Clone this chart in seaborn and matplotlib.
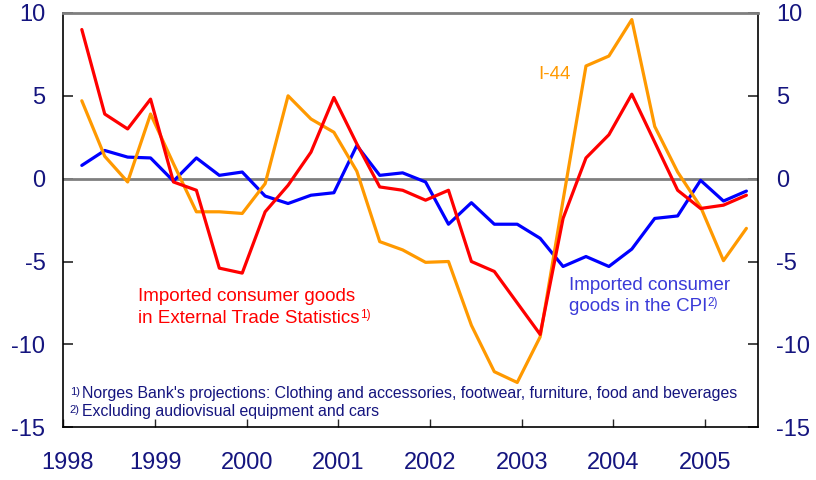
import numpy as np
import pandas as pd
import matplotlib
matplotlib.use("Agg")
import matplotlib.pyplot as plt
import matplotlib.transforms as mtransforms
import seaborn as sns

# quarterly data 1998Q1 - 2005Q2
quarters = pd.period_range("1998Q1", "2005Q2", freq="Q")
trade_stats = [9.0, 3.9, 3.0, 4.8, -0.2, -0.7, -5.4, -5.7, -2.0, -0.4,
               1.6, 4.9, 2.1, -0.5, -0.7, -1.3, -0.7, -5.0, -5.6, -7.5,
               -9.4, -2.4, 1.25, 2.65, 5.1, 2.2, -0.7, -1.8, -1.6, -1.0]
i44 = [4.7, 1.35, -0.2, 3.9, 0.9, -2.0, -2.0, -2.1, -0.3, 5.0,
       3.6, 2.8, 0.45, -3.8, -4.3, -5.05, -5.0, -8.85, -11.65, -12.3,
       -9.55, -1.3, 6.8, 7.4, 9.6, 3.15, 0.4, -1.7, -4.95, -3.0]
cpi = [0.8, 1.7, 1.3, 1.25, -0.15, 1.25, 0.2, 0.4, -1.05, -1.5,
       -1.0, -0.85, 2.0, 0.2, 0.35, -0.2, -2.75, -1.45, -2.75, -2.75,
       -3.6, -5.3, -4.7, -5.3, -4.25, -2.4, -2.25, -0.1, -1.35, -0.75]
years = list(range(1998, 2006))
yticks = [10, 5, 0, -5, -10, -15]

navy = "#15157f"
red = "#ff0000"
orange = "#ff9900"
blue = "#0000ff"
label_blue = "#3a3ad8"

x = np.array([q.year + (q.quarter - 1) / 4 + 0.2 for q in quarters])
df = pd.DataFrame({"x": x, "trade": trade_stats, "i44": i44, "cpi": cpi})

sns.set_style("white")
plt.rcParams["font.family"] = ["Liberation Sans", "DejaVu Sans"]
plt.rcParams["axes.unicode_minus"] = False

fig = plt.figure(figsize=(8.16, 4.8), dpi=100)
ax = fig.add_axes([0.0778, 0.110, 0.8515, 0.863])

ax.axhline(0, color="#7f7f7f", lw=2, zorder=1)
sns.lineplot(data=df, x="x", y="trade", color=red, lw=2.3, ax=ax, zorder=4)
sns.lineplot(data=df, x="x", y="i44", color=orange, lw=2.3, ax=ax, zorder=3)
sns.lineplot(data=df, x="x", y="cpi", color=blue, lw=2.3, ax=ax, zorder=2)

ax.set_xlim(1998, 2005.58)
ax.set_ylim(-15, 10)
ax.set_xlabel("")
ax.set_ylabel("")

for side in ["left", "right", "bottom"]:
    ax.spines[side].set_color("black")
    ax.spines[side].set_linewidth(1.2)
ax.spines["top"].set_color("#7f7f7f")
ax.spines["top"].set_linewidth(2)

ax.set_yticks(yticks)
ax.set_xticks(years)
ax.set_xticklabels([str(y) for y in years])
ax.tick_params(axis="y", which="both", direction="in", length=7, width=1.2,
               left=True, right=True, labelleft=True, labelright=True,
               labelsize=17, labelcolor=navy, pad=13)
ax.tick_params(axis="x", direction="in", length=6, width=1, bottom=True,
               labelsize=17, labelcolor=navy, pad=18)
# nudge the first year label a little to the right, as in the original
lab0 = ax.get_xticklabels()[0]
lab0.set_transform(lab0.get_transform() +
                   mtransforms.ScaledTranslation(4 / 100, 0, fig.dpi_scale_trans))

# series labels
ax.text(2003.18, 6.27, "I-44", color=orange, fontsize=13.5, va="center")

r1 = ax.text(1998.81, -7.1, "Imported consumer goods", color=red,
             fontsize=13.5, va="center")
r2 = ax.text(1998.81, -8.43, "in External Trade Statistics", color=red,
             fontsize=13.5, va="center")
ax.annotate("1)", xy=(1, 0.72), xycoords=r2, xytext=(0.3, 0),
            textcoords="offset points", color=red, fontsize=8.5, va="center")

b1 = ax.text(2003.51, -6.45, "Imported consumer", color=label_blue,
             fontsize=13.5, va="center")
b2 = ax.text(2003.51, -7.7, "goods in the CPI", color=label_blue,
             fontsize=13.5, va="center")
ax.annotate("2)", xy=(1, 0.72), xycoords=b2, xytext=(0.3, 0),
            textcoords="offset points", color=label_blue, fontsize=8.5, va="center")

# footnotes
notes = ["Norges Bank's projections: Clothing and accessories, footwear, furniture, food and beverages",
         "Excluding audiovisual equipment and cars"]
marks = ["1)", "2)"]
for mark, note, yy in zip(marks, notes, [-13.05, -14.12]):
    m = ax.text(1998.07, yy + 0.15, mark, color=navy, fontsize=8, va="center")
    ax.annotate(note, xy=(1, 0.35), xycoords=m, xytext=(1.5, 0),
                textcoords="offset points", color=navy, fontsize=11.4, va="center")

fig.savefig("out.png", dpi=100)
